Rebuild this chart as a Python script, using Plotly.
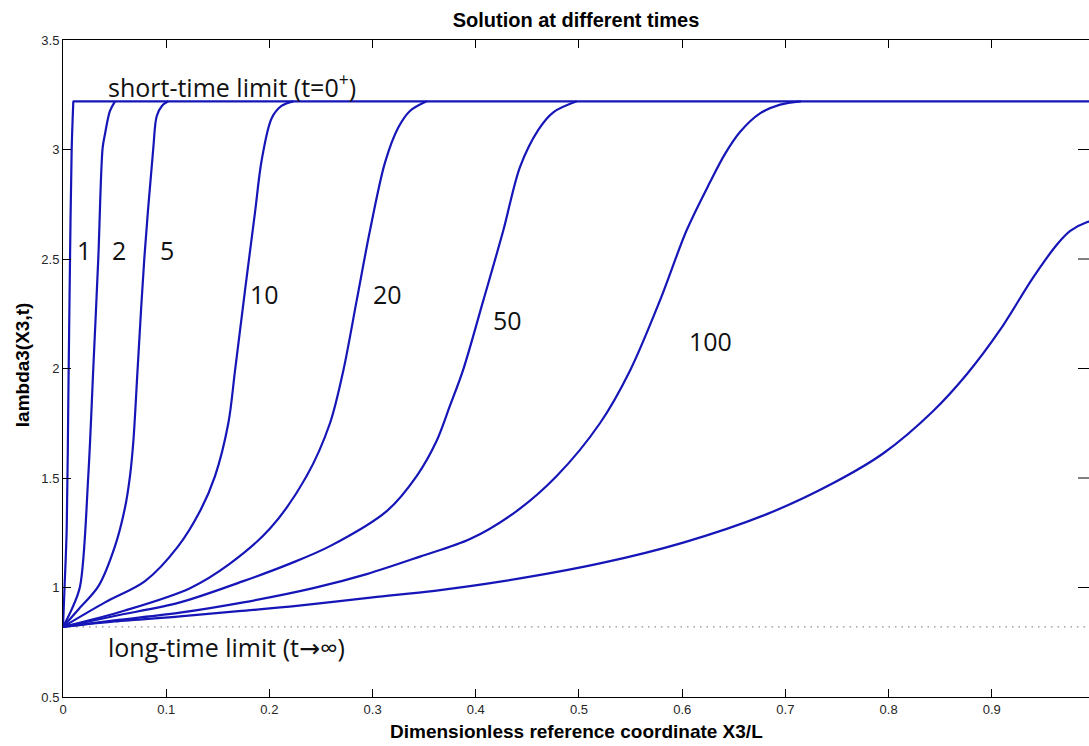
import plotly.graph_objects as go

# lambda3(X3, t) profiles along the dimensionless coordinate X3/L
x_t1 = [0.0, 0.0015, 0.0036, 0.0052, 0.0068, 0.0084, 0.0100]
y_t1 = [0.82, 1.00, 1.27, 1.88, 2.50, 3.00, 3.22]

x_t2 = [0.0, 0.0084, 0.0165, 0.0245, 0.0294, 0.0342, 0.0384, 0.0407, 0.0455, 0.0504]
y_t2 = [0.82, 0.90, 1.005, 1.509, 2.006, 2.503, 3.007, 3.071, 3.176, 3.22]

x_t5 = [0.0, 0.0149, 0.0342, 0.0504, 0.0601, 0.0649, 0.0682, 0.0724, 0.0788, 0.0875, 0.0908, 0.0960, 0.1020]
y_t5 = [0.82, 0.90, 1.005, 1.189, 1.365, 1.509, 1.669, 2.006, 2.503, 3.007, 3.152, 3.20, 3.22]

x_t10 = [0.0, 0.0407, 0.0795, 0.1117, 0.1328, 0.1473, 0.1602, 0.1667, 0.1764, 0.1860, 0.1925, 0.2022, 0.2120, 0.2232]
y_t10 = [0.82, 0.932, 1.029, 1.189, 1.349, 1.509, 1.75, 1.99, 2.358, 2.711, 2.951, 3.143, 3.20, 3.22]

x_t20 = [0.0, 0.060, 0.1231, 0.1618, 0.2006, 0.2361, 0.2587, 0.2716, 0.2846, 0.2975, 0.3120, 0.3249, 0.3362, 0.3524]
y_t20 = [0.82, 0.895, 0.997, 1.109, 1.269, 1.509, 1.75, 1.99, 2.311, 2.631, 2.94, 3.10, 3.176, 3.22]

x_t50 = [0.0, 0.050, 0.1134, 0.1747, 0.2200, 0.2587, 0.3137, 0.3427, 0.3621, 0.3750, 0.3875,
         0.4073, 0.4267, 0.4428, 0.4606, 0.4751, 0.4978]
y_t50 = [0.82, 0.87, 0.932, 1.029, 1.109, 1.189, 1.349, 1.509, 1.67, 1.83, 1.99,
         2.311, 2.631, 2.92, 3.09, 3.17, 3.22]

x_t100 = [0.0, 0.050, 0.1134, 0.1747, 0.2425, 0.2943, 0.3459, 0.3944, 0.4396, 0.4784, 0.5203,
          0.5494, 0.5785, 0.6043, 0.6269, 0.6415, 0.6560, 0.6754, 0.6950, 0.7150]
y_t100 = [0.82, 0.85, 0.885, 0.932, 0.997, 1.061, 1.141, 1.221, 1.349, 1.509, 1.75,
          1.99, 2.311, 2.631, 2.85, 2.98, 3.08, 3.165, 3.205, 3.22]

x_latest = [0.0, 0.050, 0.1134, 0.170, 0.2264, 0.300, 0.360, 0.4267, 0.5203, 0.601, 0.682,
            0.746, 0.795, 0.843, 0.876, 0.908, 0.940, 0.963, 0.976, 0.992, 1.0]
y_latest = [0.82, 0.845, 0.868, 0.892, 0.916, 0.955, 0.985, 1.029, 1.110, 1.205, 1.335,
            1.476, 1.613, 1.805, 1.975, 2.176, 2.415, 2.565, 2.628, 2.668, 2.675]

# limiting profiles
short_limit_x = [0.0095, 1.0]
short_limit_y = [3.22, 3.22]
long_limit_x = [0.0, 1.0]
long_limit_y = [0.82, 0.82]

# time labels placed beside the curves
time_labels = ["1", "2", "5", "10", "20", "50", "100"]
time_label_x = [0.0203, 0.0538, 0.1003, 0.1948, 0.3140, 0.4310, 0.6270]
time_label_y = [2.54, 2.54, 2.54, 2.34, 2.34, 2.221, 2.126]

x_ticks = [0.0, 0.1, 0.2, 0.3, 0.4, 0.5, 0.6, 0.7, 0.8, 0.9, 1.0]
x_tick_text = ["0", "0.1", "0.2", "0.3", "0.4", "0.5", "0.6", "0.7", "0.8", "0.9", "1"]
y_ticks = [0.5, 1.0, 1.5, 2.0, 2.5, 3.0, 3.5]
y_tick_text = ["0.5", "1", "1.5", "2", "2.5", "3", "3.5"]

BLUE = "#1616b8"
curves = [(x_t1, y_t1), (x_t2, y_t2), (x_t5, y_t5), (x_t10, y_t10),
          (x_t20, y_t20), (x_t50, y_t50), (x_t100, y_t100), (x_latest, y_latest)]

fig = go.Figure()

fig.add_trace(go.Scatter(x=long_limit_x, y=long_limit_y, mode="lines",
                         line=dict(color="#8e8e8e", width=1.3, dash="1.5px,5px"),
                         hoverinfo="skip"))
fig.add_trace(go.Scatter(x=short_limit_x, y=short_limit_y, mode="lines",
                         line=dict(color=BLUE, width=2.2), hoverinfo="skip"))
for cx, cy in curves:
    fig.add_trace(go.Scatter(x=cx, y=cy, mode="lines",
                             line=dict(color=BLUE, width=2.2, shape="spline", smoothing=0.9)))

text_font = dict(family="Open Sans, DejaVu Sans, sans-serif", size=25, color="#111111")
annotations = []
for lab, lx, ly in zip(time_labels, time_label_x, time_label_y):
    annotations.append(dict(x=lx, y=ly, xref="x", yref="y", text=lab, showarrow=False,
                            xanchor="center", yanchor="middle", font=text_font))
annotations.append(dict(x=0.0417, y=3.29, xref="x", yref="y",
                        text="short-time limit (t=0<sup>+</sup>)", showarrow=False,
                        xanchor="left", yanchor="middle", font=text_font))
annotations.append(dict(x=0.0417, y=0.728, xref="x", yref="y",
                        text="long-time limit (t\u2192\u221e)", showarrow=False,
                        xanchor="left", yanchor="middle", font=text_font))

label_font = dict(family="Liberation Sans, Arial, sans-serif", size=19, color="#000000")
annotations.append(dict(x=0.5, y=0, xref="paper", yref="paper", yshift=-34,
                        text="<b>Dimensionless reference coordinate X3/L</b>", showarrow=False,
                        xanchor="center", yanchor="middle", font=label_font))
annotations.append(dict(x=0, y=0.505, xref="paper", yref="paper", xshift=-41,
                        text="<b>lambda3(X3,t)</b>", showarrow=False, textangle=-90,
                        xanchor="center", yanchor="middle", font=label_font))

# inward tick marks along the right-hand edge
shapes = []
for v in y_ticks[1:-1]:
    shapes.append(dict(type="line", xref="paper", yref="y", xsizemode="pixel", xanchor=1,
                       x0=-11, x1=0, y0=v, y1=v, line=dict(color="#000000", width=1)))

fig.update_layout(
    width=1089, height=746,
    margin=dict(l=63, r=0, t=40, b=49),
    paper_bgcolor="white", plot_bgcolor="white",
    showlegend=False,
    title=dict(text="<b>Solution at different times</b>", x=0.5, xref="paper",
               y=1 - 19.5 / 746, yref="container", xanchor="center", yanchor="middle",
               font=dict(family="Liberation Sans, Arial, sans-serif", size=20, color="#000000")),
    annotations=annotations,
    shapes=shapes,
)
fig.update_xaxes(range=[0, 0.9942], tickvals=x_ticks, ticktext=x_tick_text,
                 ticks="inside", ticklen=8, tickcolor="#000000", showline=True,
                 linecolor="#000000", linewidth=1, mirror="ticks", showgrid=False,
                 zeroline=False,
                 tickfont=dict(family="Liberation Sans, Arial, sans-serif", size=13, color="#262626"))
fig.update_yaxes(range=[0.5, 3.5], tickvals=y_ticks, ticktext=y_tick_text,
                 ticks="inside", ticklen=8, tickcolor="#000000", showline=True,
                 linecolor="#000000", linewidth=1, showgrid=False, zeroline=False,
                 tickfont=dict(family="Liberation Sans, Arial, sans-serif", size=13, color="#262626"))

fig.write_html("out.html")
